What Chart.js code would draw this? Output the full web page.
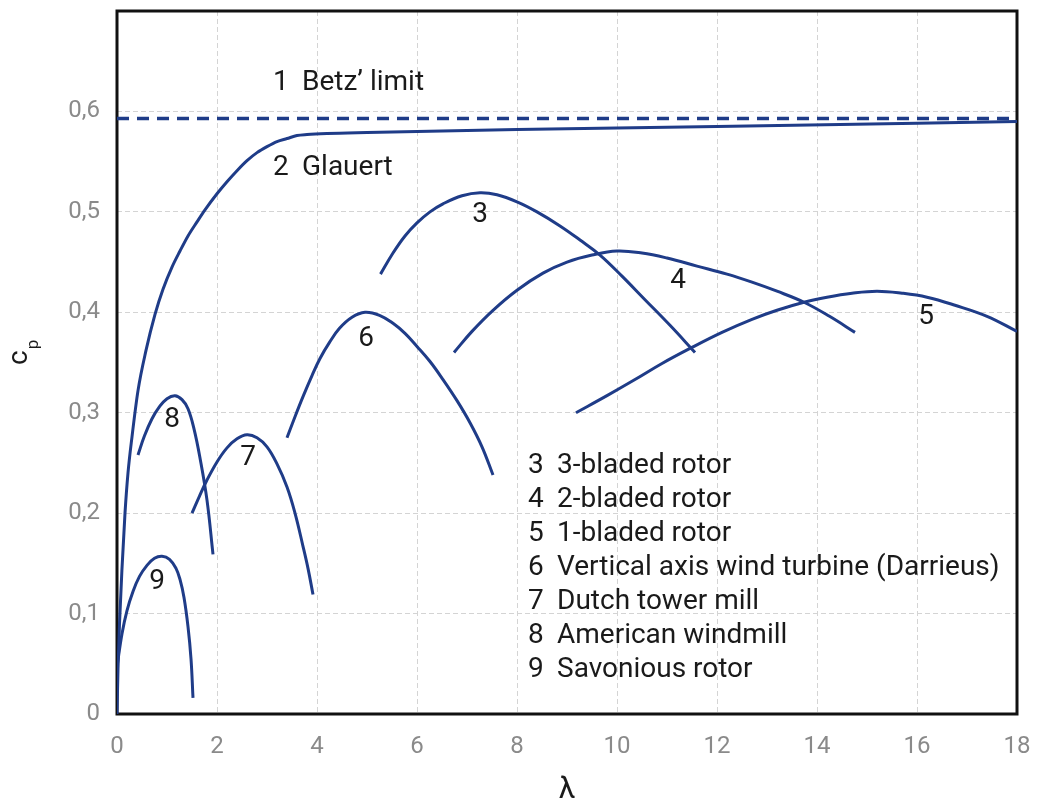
<!DOCTYPE html>
<html>
<head>
<meta charset="utf-8">
<script src="https://cdn.jsdelivr.net/npm/chart.js@4.4.1/dist/chart.umd.min.js"></script>
<style>
  html, body { margin: 0; padding: 0; background: #ffffff; }
  #wrap { width: 1038px; height: 807px; position: relative; }
</style>
</head>
<body>
<div id="wrap"><canvas id="cp"></canvas></div>
<script>
// Power coefficient c_p versus tip speed ratio λ
const xTicks = [0, 2, 4, 6, 8, 10, 12, 14, 16, 18];
const yTicks = [0, 0.1, 0.2, 0.3, 0.4, 0.5, 0.6];

// 1 Betz' limit (16/27)
const betzLambda = [0, 18];
const betzCp = [0.593, 0.593];

// 2 Glauert
const glauertLambda = [0, 0.02, 0.05, 0.1, 0.16, 0.22, 0.3, 0.42, 0.58, 0.76, 0.92, 1.1, 1.26, 1.42, 1.6, 1.76, 2.0, 2.2, 2.4, 2.6, 2.8, 3.0, 3.2, 3.4, 3.6, 3.8, 4.2, 5, 8, 12, 18];
const glauertCp = [0, 0.045, 0.09, 0.145, 0.2, 0.24, 0.276, 0.322, 0.362, 0.398, 0.423, 0.445, 0.461, 0.476, 0.49, 0.502, 0.518, 0.53, 0.541, 0.551, 0.559, 0.565, 0.57, 0.573, 0.576, 0.577, 0.578, 0.579, 0.582, 0.585, 0.590];

// 3 3-bladed rotor
const rotor3Lambda = [5.27, 5.52, 5.76, 6.0, 6.26, 6.52, 6.9, 7.26, 7.6, 8.0, 8.4, 8.86, 9.26, 9.66, 10.1, 10.55, 11.06, 11.56];
const rotor3Cp = [0.438, 0.459, 0.476, 0.489, 0.5, 0.508, 0.516, 0.519, 0.517, 0.51, 0.5, 0.486, 0.472, 0.457, 0.436, 0.413, 0.387, 0.36];

// 4 2-bladed rotor
const rotor2Lambda = [6.74, 7.1, 7.52, 8.0, 8.52, 9.0, 9.5, 10.0, 10.5, 11.0, 11.6, 12.2, 12.7, 13.2, 13.74, 14.25, 14.76];
const rotor2Cp = [0.36, 0.381, 0.402, 0.422, 0.439, 0.45, 0.457, 0.461, 0.459, 0.454, 0.446, 0.438, 0.43, 0.421, 0.41, 0.396, 0.38];

// 5 1-bladed rotor
const rotor1Lambda = [9.18, 9.8, 10.36, 10.9, 11.46, 12.1, 12.7, 13.2, 13.74, 14.2, 14.7, 15.2, 15.7, 16.2, 16.76, 17.4, 18];
const rotor1Cp = [0.3, 0.317, 0.333, 0.349, 0.364, 0.38, 0.393, 0.402, 0.41, 0.415, 0.419, 0.421, 0.419, 0.415, 0.407, 0.396, 0.381];

// 6 Darrieus
const darrieusLambda = [3.4, 3.56, 3.72, 3.9, 4.06, 4.25, 4.45, 4.7, 4.96, 5.25, 5.52, 5.76, 6.0, 6.26, 6.52, 6.8, 7.06, 7.3, 7.52];
const darrieusCp = [0.275, 0.296, 0.316, 0.337, 0.354, 0.37, 0.384, 0.395, 0.4, 0.397, 0.389, 0.379, 0.366, 0.351, 0.333, 0.312, 0.29, 0.266, 0.238];

// 7 Dutch tower mill
const dutchLambda = [1.5, 1.65, 1.8, 2.0, 2.2, 2.4, 2.6, 2.8, 3.0, 3.2, 3.4, 3.56, 3.72, 3.82, 3.92];
const dutchCp = [0.2, 0.217, 0.233, 0.251, 0.265, 0.274, 0.278, 0.275, 0.266, 0.249, 0.226, 0.2, 0.167, 0.145, 0.119];

// 8 American windmill
const americanLambda = [0.42, 0.55, 0.7, 0.85, 1.0, 1.16, 1.3, 1.42, 1.54, 1.66, 1.8, 1.92];
const americanCp = [0.258, 0.277, 0.294, 0.306, 0.314, 0.317, 0.313, 0.304, 0.284, 0.255, 0.213, 0.159];

// 9 Savonius rotor
const savoniusLambda = [0, 0.1, 0.2, 0.32, 0.45, 0.6, 0.75, 0.9, 1.05, 1.18, 1.26, 1.34, 1.42, 1.48, 1.52];
const savoniusCp = [0.047, 0.08, 0.103, 0.122, 0.137, 0.148, 0.155, 0.157, 0.154, 0.145, 0.134, 0.116, 0.087, 0.055, 0.016];

// curve numbers written next to the curves
const curveTags = ['3', '4', '5', '6', '7', '8', '9'];
const curveTagLambda = [7.26, 11.22, 16.18, 4.98, 2.62, 1.1, 0.8];
const curveTagCp = [0.497, 0.431, 0.395, 0.373, 0.255, 0.293, 0.131];

// headed labels above and below the limit lines
const topTags = ['1', '2'];
const topNames = ['Betz\u2019 limit', 'Glauert'];
const topLambda = [3.12, 3.12];
const topCp = [0.628, 0.544];

// key text
const keyNumbers = ['3', '4', '5', '6', '7', '8', '9'];
const keyNames = ['3-bladed rotor', '2-bladed rotor', '1-bladed rotor',
  'Vertical axis wind turbine (Darrieus)', 'Dutch tower mill',
  'American windmill', 'Savonious rotor'];
const keyLambda = 8.22;
const keyCp = 0.247;

const BLUE = '#1f3c88';
const FONT = 'Roboto';

function pts(xs, ys) { return xs.map((x, i) => ({ x: x, y: ys[i] })); }
function curve(xs, ys, extra) {
  return Object.assign({
    data: pts(xs, ys),
    borderColor: BLUE,
    borderWidth: 3,
    pointRadius: 0,
    fill: false,
    tension: 0.4,
    borderCapStyle: 'butt',
    borderJoinStyle: 'round'
  }, extra || {});
}

const textLayer = {
  id: 'textLayer',
  beforeDatasetsDraw(chart) {
    const { ctx, chartArea: a } = chart;
    ctx.save();
    ctx.strokeStyle = '#111111';
    ctx.lineWidth = 3;
    ctx.strokeRect(a.left, a.top, a.right - a.left, a.bottom - a.top);
    ctx.restore();
  },
  afterDatasetsDraw(chart) {
    const { ctx, scales: { x, y }, chartArea: a } = chart;
    ctx.save();
    ctx.fillStyle = '#1a1a1a';
    ctx.font = '28px ' + FONT;
    ctx.textBaseline = 'middle';

    ctx.textAlign = 'center';
    curveTags.forEach((t, i) => {
      ctx.fillText(t, x.getPixelForValue(curveTagLambda[i]), y.getPixelForValue(curveTagCp[i]));
    });

    ctx.textAlign = 'left';
    topTags.forEach((t, i) => {
      const px = x.getPixelForValue(topLambda[i]);
      const py = y.getPixelForValue(topCp[i]);
      ctx.fillText(t, px, py);
      ctx.fillText(topNames[i], px + 29, py);
    });

    const kx = x.getPixelForValue(keyLambda);
    const ky = y.getPixelForValue(keyCp);
    keyNumbers.forEach((n, i) => {
      ctx.fillText(n, kx, ky + i * 34);
      ctx.fillText(keyNames[i], kx + 29, ky + i * 34);
    });

    // axis titles
    ctx.textAlign = 'center';
    ctx.font = '30px ' + FONT;
    ctx.fillText('\u03bb', (a.left + a.right) / 2, 790);

    ctx.translate(27, 365);
    ctx.rotate(-Math.PI / 2);
    ctx.textAlign = 'left';
    ctx.textBaseline = 'alphabetic';
    ctx.font = '28px ' + FONT;
    ctx.fillText('c', 0, 0);
    const cw = ctx.measureText('c').width;
    ctx.font = '17px ' + FONT;
    ctx.fillText('p', cw + 1, 11);
    ctx.restore();
  }
};

Chart.defaults.font.family = FONT;

new Chart(document.getElementById('cp'), {
  type: 'line',
  data: {
    datasets: [
      curve(betzLambda, betzCp, { borderDash: [12, 8], borderWidth: 3.5, tension: 0 }),
      curve(glauertLambda, glauertCp, { cubicInterpolationMode: 'monotone' }),
      curve(rotor3Lambda, rotor3Cp),
      curve(rotor2Lambda, rotor2Cp),
      curve(rotor1Lambda, rotor1Cp),
      curve(darrieusLambda, darrieusCp),
      curve(dutchLambda, dutchCp),
      curve(americanLambda, americanCp),
      curve(savoniusLambda, savoniusCp)
    ]
  },
  options: {
    responsive: true,
    maintainAspectRatio: false,
    animation: false,
    events: [],
    layout: { padding: { left: 0, top: 11, right: 21, bottom: 0 } },
    plugins: { legend: { display: false }, tooltip: { enabled: false } },
    scales: {
      x: {
        type: 'linear',
        min: xTicks[0],
        max: xTicks[xTicks.length - 1],
        afterFit(s) { s.height = 93; s.paddingLeft = 0; s.paddingRight = 0; },
        afterBuildTicks(s) { s.ticks = xTicks.map(v => ({ value: v })); },
        grid: { color: '#d4d4d4', lineWidth: 1, drawTicks: false },
        border: { display: false, dash: [5, 3] },
        ticks: { color: '#8a8a8a', font: { size: 24 }, padding: 19, maxRotation: 0,
          callback: v => String(v) }
      },
      y: {
        type: 'linear',
        min: 0,
        max: 0.7,
        afterFit(s) { s.width = 117; s.paddingTop = 0; s.paddingBottom = 0; },
        afterBuildTicks(s) { s.ticks = yTicks.concat([0.7]).map(v => ({ value: v })); },
        grid: { color: '#d4d4d4', lineWidth: 1, drawTicks: false },
        border: { display: false, dash: [5, 3] },
        ticks: { color: '#8a8a8a', font: { size: 24 }, padding: 17,
          callback: v => (v > 0.65 ? '' : (v === 0 ? '0' : v.toFixed(1).replace('.', ','))) }
      }
    }
  },
  plugins: [textLayer]
});
</script>
</body>
</html>
